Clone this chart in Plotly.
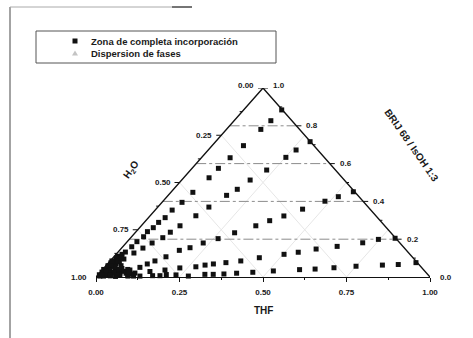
import plotly.graph_objects as go

# ---------------- data (fractions; H2O = 1 - THF - BRIJ) ----------------
ray_a_thf = [0.114, 0.110, 0.103, 0.094, 0.086, 0.079, 0.076, 0.066, 0.060, 0.051, 0.050,
             0.043, 0.041, 0.034, 0.036, 0.029, 0.027, 0.022, 0.018, 0.013, 0.009, 0.005]
ray_a_brij = [0.884, 0.827, 0.781, 0.695, 0.631, 0.575, 0.525, 0.448, 0.395, 0.354, 0.314,
              0.289, 0.261, 0.240, 0.213, 0.187, 0.160, 0.132, 0.106, 0.079, 0.053, 0.026]

ray_c_thf = [0.283, 0.263, 0.252, 0.228, 0.205, 0.191, 0.175, 0.153, 0.137, 0.116, 0.104,
             0.096, 0.078, 0.064, 0.050, 0.036, 0.022, 0.011]
ray_c_brij = [0.716, 0.672, 0.633, 0.566, 0.513, 0.464, 0.432, 0.370, 0.324, 0.271, 0.237,
              0.208, 0.180, 0.153, 0.127, 0.095, 0.063, 0.032]

ray_d_thf = [0.545, 0.513, 0.485, 0.439, 0.401, 0.371, 0.343, 0.298, 0.264, 0.231, 0.204,
             0.179, 0.156, 0.134, 0.119, 0.106, 0.083, 0.061, 0.036]
ray_d_brij = [0.451, 0.425, 0.401, 0.359, 0.323, 0.298, 0.271, 0.234, 0.203, 0.180, 0.155,
              0.141, 0.107, 0.085, 0.069, 0.051, 0.037, 0.021, 0.011]

ray_e_thf = [0.793, 0.746, 0.708, 0.641, 0.585, 0.540, 0.503, 0.438, 0.391, 0.351, 0.317,
             0.295, 0.272, 0.227, 0.188, 0.147, 0.106, 0.065]
ray_e_brij = [0.205, 0.199, 0.181, 0.162, 0.148, 0.131, 0.120, 0.102, 0.085, 0.076, 0.069,
              0.063, 0.054, 0.048, 0.037, 0.029, 0.021, 0.013]

ray_f_thf = [0.920, 0.872, 0.826, 0.750, 0.688, 0.635, 0.590, 0.515, 0.457, 0.411, 0.375,
             0.344, 0.319, 0.274, 0.234, 0.204, 0.188, 0.166, 0.129, 0.093, 0.057]
ray_f_brij = [0.076, 0.066, 0.063, 0.057, 0.049, 0.042, 0.039, 0.032, 0.025, 0.020, 0.016,
              0.014, 0.014, 0.005, 0.011, 0.013, 0.007, 0.007, 0.005, 0.005, 0.003]

blob_thf = [0.004, 0.008, 0.012, 0.016, 0.020, 0.030, 0.040, 0.050, 0.025, 0.035, 0.060,
            0.015, 0.006, 0.045, 0.070, 0.010, 0.030, 0.020, 0.003, 0.007, 0.011, 0.018,
            0.024, 0.028, 0.034, 0.042, 0.055, 0.065, 0.080, 0.090, 0.100, 0.110, 0.012,
            0.016, 0.022, 0.038, 0.048, 0.058, 0.075, 0.085, 0.005, 0.009, 0.014, 0.026]
blob_brij = [0.012, 0.024, 0.036, 0.050, 0.020, 0.012, 0.006, 0.030, 0.070, 0.045, 0.015,
             0.090, 0.060, 0.060, 0.030, 0.110, 0.080, 0.005, 0.040, 0.075, 0.100, 0.120,
             0.035, 0.055, 0.020, 0.025, 0.045, 0.010, 0.020, 0.010, 0.015, 0.005, 0.065,
             0.030, 0.085, 0.010, 0.040, 0.008, 0.040, 0.025, 0.085, 0.005, 0.010, 0.100]

thf_ticks = [0.0, 0.25, 0.5, 0.75, 1.0]
thf_ticktext = ["0.00", "0.25", "0.50", "0.75", "1.00"]
thf_minor = [0.125, 0.375, 0.625, 0.875]
h2o_ticks = [0.0, 0.25, 0.5, 0.75, 1.0]
h2o_ticktext = ["0.00", "0.25", "0.50", "0.75", "1.00"]
h2o_minor = [0.125, 0.375, 0.625, 0.875]
brij_ticks = [0.0, 0.2, 0.4, 0.6, 0.8, 1.0]
brij_ticktext = ["0.0", "0.2", "0.4", "0.6", "0.8", "1.0"]
brij_minor = [0.1, 0.3, 0.5, 0.7, 0.9]
brij_grid = [0.2, 0.4, 0.6, 0.8]
faint_grid = [0.25, 0.5, 0.75]

legend_names = ["Zona de completa incorporación", "Dispersion de fases"]

# ---------------- helpers ----------------
def proj(thf, brij):
    """ternary (THF, BRIJ) -> cartesian x, y of the drawn triangle"""
    return thf + brij / 2.0, brij

W, H = 473, 338
ML, MR, MT, MB = 96, 43, 88, 61
PW, PH = W - ML - MR, H - MT - MB

font_b = dict(family="Liberation Sans, Arial, sans-serif", size=8, color="#1a1a1a", weight="bold")

fig = go.Figure()

# faint THF / H2O grid lines
fx, fy = [], []
for c in faint_grid:
    x0, y0 = proj(c, 0.0); x1, y1 = proj(c, 1 - c)
    fx += [x0, x1, None]; fy += [y0, y1, None]
    x0, y0 = proj(1 - c, 0.0); x1, y1 = proj(0.0, 1 - c)
    fx += [x0, x1, None]; fy += [y0, y1, None]
fig.add_trace(go.Scatter(x=fx, y=fy, mode="lines", line=dict(color="#e6e6e6", width=1),
                         hoverinfo="skip", showlegend=False))

# BRIJ grid lines (horizontal)
gx, gy = [], []
for c in brij_grid:
    x0, y0 = proj(0.0, c); x1, y1 = proj(1 - c, c)
    gx += [x0, x1, None]; gy += [y0, y1, None]
fig.add_trace(go.Scatter(x=gx, y=gy, mode="lines",
                         line=dict(color="#8c8c8c", width=1, dash="10px,3px,3px,3px"),
                         hoverinfo="skip", showlegend=False))

# triangle sides
ex, ey = [], []
for t, b in [(0, 0), (0, 1), (1, 0)]:
    x, y = proj(t, b); ex.append(x); ey.append(y)
fig.add_trace(go.Scatter(x=ex, y=ey, mode="lines", line=dict(color="#111", width=1.4),
                         cliponaxis=False, hoverinfo="skip", showlegend=False))

# side ticks
tk = 5.0 / PW
tkm = 2.5 / PW
sx, sy = [], []
for w in h2o_ticks:
    x, y = proj(0.0, 1 - w); sx += [x - tk, x, None]; sy += [y, y, None]
for w in h2o_minor:
    x, y = proj(0.0, 1 - w); sx += [x - tkm, x, None]; sy += [y, y, None]
for b in brij_ticks:
    x, y = proj(1 - b, b); sx += [x, x + tk, None]; sy += [y, y, None]
for b in brij_minor:
    x, y = proj(1 - b, b); sx += [x, x + tkm, None]; sy += [y, y, None]
fig.add_trace(go.Scatter(x=sx, y=sy, mode="lines", line=dict(color="#111", width=1),
                         cliponaxis=False, hoverinfo="skip", showlegend=False))

# data points
all_thf = ray_a_thf + ray_c_thf + ray_d_thf + ray_e_thf + ray_f_thf + blob_thf
all_brij = ray_a_brij + ray_c_brij + ray_d_brij + ray_e_brij + ray_f_brij + blob_brij
px = [proj(t, b)[0] for t, b in zip(all_thf, all_brij)]
py = [proj(t, b)[1] for t, b in zip(all_thf, all_brij)]
fig.add_trace(go.Scatter(x=px, y=py, mode="markers", name=legend_names[0],
                         marker=dict(symbol="square", size=5, color="#111"),
                         cliponaxis=False, showlegend=False))

# side tick labels
ann = []
for w, txt in zip(h2o_ticks, h2o_ticktext):
    x, y = proj(0.0, 1 - w)
    ann.append(dict(x=x, y=y, xref="x", yref="y", text=txt, showarrow=False,
                    xanchor="right", yanchor="middle", xshift=-7,
                    yshift=3 if w == 0 else 0, font=font_b))
for b, txt in zip(brij_ticks, brij_ticktext):
    x, y = proj(1 - b, b)
    ann.append(dict(x=x, y=y, xref="x", yref="y", text=txt, showarrow=False,
                    xanchor="left", yanchor="middle", xshift=8,
                    yshift=3 if b == 1 else 0, font=font_b))

title_font = dict(family="Liberation Sans, Arial, sans-serif", size=10, color="#1a1a1a", weight="bold")
ann.append(dict(x=0.105, y=0.566, xref="x", yref="y", text="H<sub>2</sub>O", showarrow=False,
                textangle=-55, font=title_font))
ann.append(dict(x=0.946, y=0.698, xref="x", yref="y", text="BRIJ 68 / IsOH 1:3", showarrow=False,
                textangle=55, font=title_font))
ann.append(dict(x=0.5, y=(277 - 310) / PH, xref="paper", yref="paper", text="THF", showarrow=False,
                xanchor="center", yanchor="middle", font=title_font))

# legend (drawn)
leg_font = dict(family="Liberation Sans, Arial, sans-serif", size=9.5, color="#1a1a1a", weight="bold")
def pxp(v): return (v - ML) / PW
def pyp(v): return (277 - v) / PH
ann.append(dict(x=pxp(89), y=pyp(41), xref="paper", yref="paper", text=legend_names[0],
                showarrow=False, xanchor="left", yanchor="middle", font=leg_font))
ann.append(dict(x=pxp(89), y=pyp(53), xref="paper", yref="paper", text=legend_names[1],
                showarrow=False, xanchor="left", yanchor="middle", font=leg_font))

shapes = [
    dict(type="rect", xref="paper", yref="paper", x0=pxp(36), x1=pxp(276), y0=pyp(63), y1=pyp(31),
         line=dict(color="#555", width=1)),
    dict(type="rect", xref="paper", yref="paper", x0=pxp(72.5), x1=pxp(77.5), y0=pyp(43.5), y1=pyp(38.5),
         fillcolor="#111", line=dict(width=0)),
    dict(type="path", xref="paper", yref="paper",
         path=f"M {pxp(72)} {pyp(55.5)} L {pxp(78)} {pyp(55.5)} L {pxp(75)} {pyp(50.5)} Z",
         fillcolor="#c4c4c4", line=dict(width=0)),
    # scanned page border
    dict(type="line", xref="paper", yref="paper", x0=pxp(10), x1=pxp(10), y0=pyp(338), y1=pyp(7),
         line=dict(color="#666", width=1.2)),
    dict(type="line", xref="paper", yref="paper", x0=pxp(10), x1=pxp(192), y0=pyp(7), y1=pyp(7),
         line=dict(color="#aaa", width=1)),
    dict(type="line", xref="paper", yref="paper", x0=pxp(172), x1=pxp(192), y0=pyp(7), y1=pyp(7),
         line=dict(color="#555", width=1.5)),
]

fig.update_layout(
    width=W, height=H,
    margin=dict(l=ML, r=MR, t=MT, b=MB),
    paper_bgcolor="white", plot_bgcolor="white",
    showlegend=False,
    annotations=ann, shapes=shapes,
    xaxis=dict(range=[0, 1], showgrid=False, zeroline=False, showline=True, linecolor="#111",
               linewidth=1.4, ticks="outside", ticklen=4, tickcolor="#111",
               tickvals=thf_ticks, ticktext=thf_ticktext, tickfont=font_b,
               ticklabelstandoff=3,
               minor=dict(tickvals=thf_minor, ticks="outside", ticklen=2, tickcolor="#111")),
    yaxis=dict(range=[0, 1], visible=False),
)

fig.write_html("out.html")
